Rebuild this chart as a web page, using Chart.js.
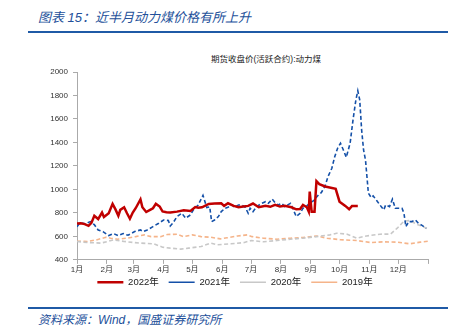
<!DOCTYPE html>
<html>
<head>
<meta charset="utf-8">
<script src="https://cdn.jsdelivr.net/npm/chart.js@4.4.1/dist/chart.umd.min.js"></script>
<style>
  html, body { margin: 0; padding: 0; background: #fff; }
  body { width: 459px; height: 333px; position: relative; overflow: hidden;
         font-family: "Liberation Sans", "Noto Sans CJK SC", sans-serif; }
  .title { position: absolute; left: 38px; top: 10px; font-size: 13px; line-height: 16px;
           color: #23509a; font-style: italic; white-space: nowrap; }
  .rule { position: absolute; left: 28px; width: 420px; background: #1f5aa6; }
  .sub { position: absolute; left: 0; width: 532px; top: 53px; text-align: center;
         font-size: 8.5px; line-height: 12px; color: #222; white-space: nowrap; }
  .source { position: absolute; left: 38px; top: 313px; font-size: 12px; line-height: 14px;
            color: #23509a; font-style: italic; white-space: nowrap; }
  #wrap { position: absolute; left: 0; top: 40px; width: 459px; height: 260px; }
</style>
</head>
<body>
<div class="title">图表 15：近半月动力煤价格有所上升</div>
<div class="rule" style="top:31px;height:2px;"></div>
<div class="sub">期货收盘价(活跃合约):动力煤</div>
<div id="wrap"><canvas id="chart"></canvas></div>
<div class="rule" style="top:307px;height:1.5px;"></div>
<div class="source">资料来源：Wind，国盛证券研究所</div>

<script>
// month axis
const monthStarts = [0, 31, 59, 90, 120, 151, 181, 212, 243, 273, 304, 334];
const monthLabels = ['1月', '2月', '3月', '4月', '5月', '6月', '7月', '8月', '9月', '10月', '11月', '12月'];
const yTicks = [400, 600, 800, 1000, 1200, 1400, 1600, 1800, 2000];

// 2022 (day of year, price)
const days2022 = [0, 4, 8, 12, 15, 18, 22, 26, 28, 33, 37, 40, 43, 45, 49, 52, 55, 58, 61, 66, 68, 72, 76, 79, 82, 86, 89, 93, 97, 104, 111, 118, 123, 126, 130, 137, 143, 150, 153, 157, 163, 168, 173, 178, 183, 189, 196, 201, 206, 211, 216, 223, 228, 232, 235, 239, 241, 242, 244, 247, 249, 252, 258, 269, 273, 279, 283, 286, 292];
const price2022 = [710, 712, 705, 690, 715, 775, 748, 803, 765, 797, 877, 830, 775, 826, 848, 797, 750, 803, 840, 915, 848, 808, 826, 840, 877, 854, 812, 805, 803, 811, 822, 816, 850, 845, 848, 877, 880, 882, 860, 882, 860, 848, 855, 860, 880, 848, 860, 852, 868, 854, 860, 848, 831, 833, 868, 848, 811, 982, 811, 811, 1070, 1045, 1025, 1005, 896, 860, 831, 860, 860];

// 2021
const days2021 = [0, 3, 9, 14, 18, 22, 27, 33, 38, 43, 48, 53, 60, 66, 69, 73, 79, 85, 90, 95, 97, 100, 104, 109, 113, 118, 121, 126, 131, 135, 138, 140, 143, 147, 150, 154, 157, 161, 164, 168, 171, 175, 178, 180, 183, 187, 192, 196, 199, 203, 206, 209, 213, 216, 222, 225, 228, 232, 235, 239, 242, 246, 251, 254, 258, 261, 265, 268, 271, 274, 277, 280, 284, 287, 290, 292, 294, 296, 298, 300, 303, 306, 308, 312, 315, 319, 321, 325, 328, 331, 334, 338, 340, 342, 345, 348, 352, 355, 358, 363];
const price2021 = [683, 717, 708, 726, 700, 655, 641, 607, 624, 607, 624, 610, 641, 655, 641, 655, 683, 712, 740, 735, 689, 717, 769, 797, 755, 783, 826, 868, 950, 845, 852, 726, 740, 769, 811, 840, 848, 868, 848, 868, 868, 848, 797, 840, 811, 854, 882, 896, 882, 917, 888, 868, 882, 854, 882, 826, 769, 797, 840, 860, 882, 905, 953, 972, 1030, 1109, 1180, 1279, 1351, 1393, 1336, 1274, 1393, 1591, 1762, 1840, 1762, 1506, 1336, 1251, 968, 930, 945, 902, 868, 826, 868, 854, 917, 840, 840, 840, 797, 683, 726, 726, 740, 712, 698, 669];

// 2020
const days2020 = [0, 11, 25, 38, 49, 59, 66, 80, 89, 97, 108, 116, 129, 139, 146, 160, 174, 181, 194, 208, 222, 235, 249, 263, 270, 281, 291, 301, 315, 326, 333, 340, 346, 353, 360, 365];
const price2020 = [557, 548, 543, 570, 557, 548, 543, 537, 508, 500, 492, 500, 514, 543, 529, 537, 548, 565, 554, 565, 576, 585, 598, 613, 627, 619, 585, 604, 619, 620, 670, 730, 735, 705, 683, 664];

// 2019
const days2019 = [0, 11, 21, 30, 35, 42, 52, 61, 70, 77, 87, 94, 104, 111, 120, 129, 139, 149, 156, 167, 177, 182, 194, 208, 222, 235, 249, 260, 274, 291, 305, 319, 333, 346, 357, 365];
const price2019 = [559, 557, 572, 593, 585, 576, 585, 598, 613, 598, 598, 616, 619, 598, 613, 598, 593, 579, 588, 604, 613, 598, 585, 576, 585, 591, 604, 585, 572, 565, 548, 554, 551, 537, 551, 559];

function toPoints(days, values) {
    return days.map((d, i) => ({ x: d, y: values[i] }));
}

Chart.defaults.font.family = '"Liberation Sans", "Noto Sans CJK SC", sans-serif';
Chart.defaults.color = '#333';

const defaultLabels = Chart.defaults.plugins.legend.labels.generateLabels;

new Chart(document.getElementById('chart'), {
    type: 'line',
    data: {
        datasets: [
            { label: '2022年', data: toPoints(days2022, price2022), borderColor: '#c00000', backgroundColor: '#c00000', borderWidth: 2.5, order: 0 },
            { label: '2021年', data: toPoints(days2021, price2021), borderColor: '#1450a8', backgroundColor: '#1450a8', borderWidth: 1.6, borderDash: [4, 2.5], order: 1 },
            { label: '2020年', data: toPoints(days2020, price2020), borderColor: '#c8c8c8', backgroundColor: '#c8c8c8', borderWidth: 1.6, borderDash: [4, 2.5], order: 2 },
            { label: '2019年', data: toPoints(days2019, price2019), borderColor: '#f5b48a', backgroundColor: '#f5b48a', borderWidth: 1.6, borderDash: [4, 2.5], order: 3 }
        ]
    },
    options: {
        responsive: true,
        maintainAspectRatio: false,
        animation: false,
        elements: { point: { radius: 0 }, line: { tension: 0 } },
        layout: { padding: { left: 42, right: 31, top: 32, bottom: 3 } },
        plugins: {
            tooltip: { enabled: false },
            legend: {
                position: 'bottom',
                labels: {
                    usePointStyle: true,
                    pointStyle: 'line',
                    pointStyleWidth: 26,
                    padding: 2,
                    font: { size: 9.5 },
                    color: '#222',
                    // trailing spaces give the gap between legend entries
                    generateLabels: (chart) => defaultLabels(chart).map((l, i, all) =>
                        ({ ...l, text: i < all.length - 1 ? l.text + '   ' : l.text }))
                }
            }
        },
        scales: {
            x: {
                type: 'linear',
                min: 0,
                max: 365,
                afterBuildTicks: (scale) => {
                    scale.ticks = monthStarts.concat([365]).map(v => ({ value: v }));
                },
                grid: { drawOnChartArea: false, color: '#aaa', tickLength: 4 },
                border: { color: '#aaa' },
                ticks: {
                    autoSkip: false,
                    maxRotation: 0,
                    padding: 1,
                    font: { size: 8 },
                    callback: (v) => {
                        const i = monthStarts.indexOf(v);
                        return i >= 0 ? monthLabels[i] : '';
                    }
                }
            },
            y: {
                min: 400,
                max: 2000,
                afterBuildTicks: (scale) => {
                    scale.ticks = yTicks.map(v => ({ value: v }));
                },
                afterFit: (scale) => { scale.width = 35; },
                grid: { drawOnChartArea: false, color: '#aaa', tickLength: 4 },
                border: { color: '#aaa' },
                ticks: { padding: 5, font: { size: 8 }, callback: (v) => String(v) }
            }
        }
    }
});
</script>
</body>
</html>
